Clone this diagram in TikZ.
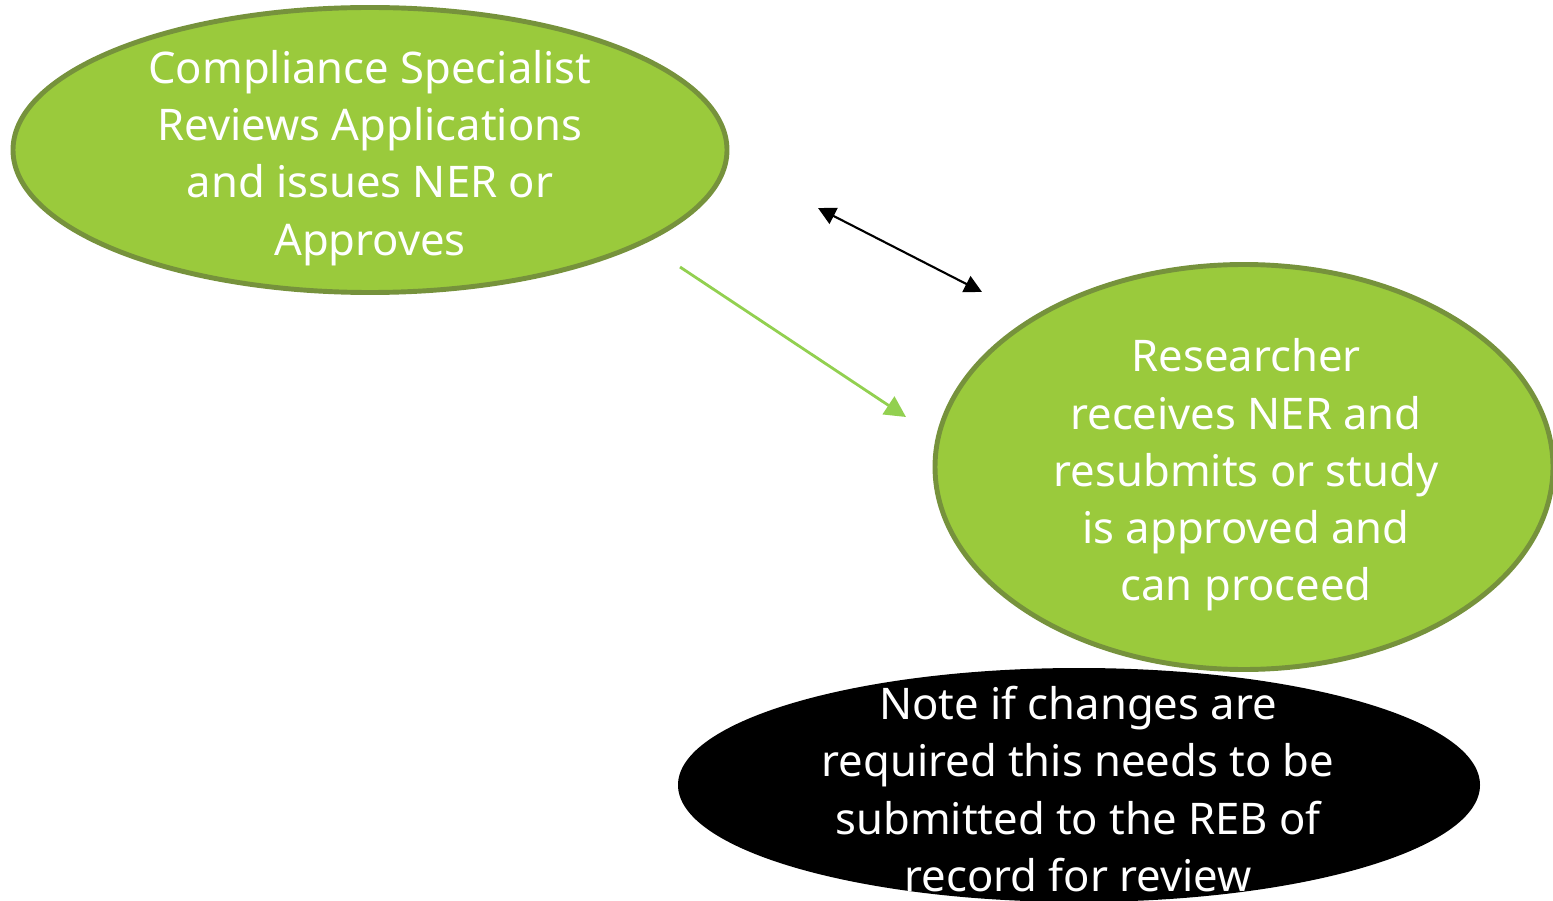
\documentclass[tikz,border=0pt]{standalone}
\usepackage{fontspec}
\setmainfont{Noto Sans}
\usetikzlibrary{shapes.geometric,arrows.meta,positioning}
\definecolor{leafgreen}{HTML}{9ACA3C}
\definecolor{leafedge}{HTML}{76923C}
\definecolor{arrowgreen}{HTML}{92D050}
\tikzset{
  bubble/.style={ellipse, draw=leafedge, line width=1.4pt, fill=leafgreen, inner sep=0pt},
  notebubble/.style={ellipse, fill=black, inner sep=0pt},
  bubbletext/.style={text=white, align=center, inner sep=0pt, font=\fontsize{12.4}{16.3}\selectfont},
}
\begin{document}
\begin{tikzpicture}
				\clip (0,0) rectangle (15.53,9);
				% Compliance step
				\node[bubble, minimum width=7.14cm, minimum height=2.85cm] (review) at (3.70,7.50) {};
				\node[bubbletext] (reviewtext) at (3.70,7.42)
					{Compliance Specialist\\Reviews Applications\\and issues NER or\\Approves};

				% Researcher step
				\node[bubble, minimum width=6.18cm, minimum height=4.05cm] (researcher) at (12.44,4.33) {};
				\node[bubbletext] (researchertext) at (12.46,4.25)
					{Researcher\\receives NER and\\resubmits or study\\is approved and\\can proceed};

				% Note
				\node[notebubble, minimum width=8.02cm, minimum height=2.34cm] (note) at (10.79,1.15) {};
				\node[bubbletext] (notetext) at (10.78,1.11)
					{Note if changes are\\required this needs to be\\submitted to the REB of\\record for review};

				% free arrows
				\coordinate (swapA) at (8.18,6.92);
				\coordinate (swapB) at (9.82,6.08);
				\coordinate (flowA) at (6.80,6.33);
				\coordinate (flowB) at (9.06,4.83);
				\draw[{Triangle[length=5pt,width=5pt]}-{Triangle[length=5pt,width=5pt]}, line width=0.6pt] (swapA) -- (swapB);
				\draw[-{Triangle[length=6pt,width=6pt]}, arrowgreen, line width=0.8pt] (flowA) -- (flowB);
			\end{tikzpicture}
\end{document}
